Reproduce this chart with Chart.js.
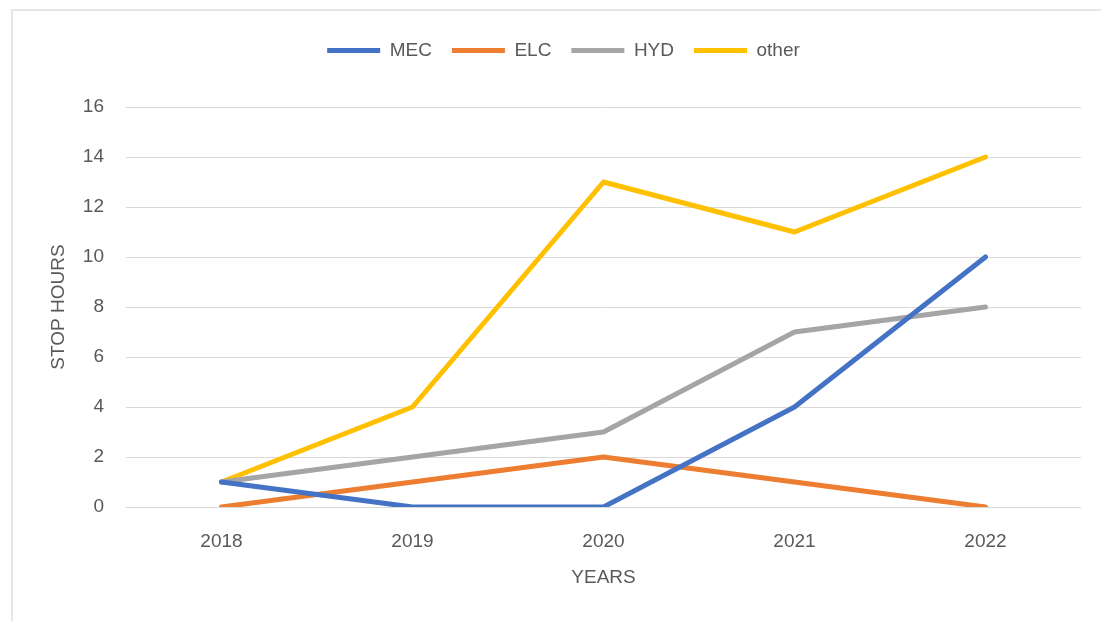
<!DOCTYPE html>
<html>
<head>
<meta charset="utf-8">
<script src="https://cdn.jsdelivr.net/npm/chart.js@4.4.1/dist/chart.umd.min.js"></script>
<style>
  html, body { margin: 0; padding: 0; background: #fff; }
  #wrap { position: relative; width: 1101px; height: 621px; }
  #frame { position: absolute; left: 11px; top: 9px; width: 1100px; height: 620px;
           border-left: 2px solid #e6e6e6; border-top: 2px solid #e6e6e6; }
  canvas { position: absolute; left: 0; top: 0; }
</style>
</head>
<body>
<div id="wrap">
  <div id="frame"></div>
  <canvas id="lineChart" width="1101" height="621"></canvas>
</div>
<script>
// data
const years = ["2018", "2019", "2020", "2021", "2022"];
const mec   = [1, 0, 0, 4, 10];
const elc   = [0, 1, 2, 1, 0];
const hyd   = [1, 2, 3, 7, 8];
const other = [1, 4, 13, 11, 14];

const blue = "#4472C4", orange = "#ED7D31", grey = "#A5A5A5", gold = "#FFC000";
const textGrey = "#595959";
const fontName = "'Liberation Sans', Arial, sans-serif";

function line(label, data, color){
    return {
        label: label,
        data: data,
        borderColor: color,
        backgroundColor: color,
        borderWidth: 5,
        pointRadius: 0,
        tension: 0,
        borderCapStyle: "round",
        borderJoinStyle: "round"
    };
}

Chart.defaults.font.family = fontName;
Chart.defaults.font.size = 19;
Chart.defaults.color = textGrey;

// extra room under the legend
const legendGap = {
    id: "legendGap",
    beforeInit(chart){
        const fit = chart.legend.fit;
        chart.legend.fit = function(){
            fit.bind(chart.legend)();
            this.height += 37;
        };
    }
};

new Chart(document.getElementById("lineChart"), {
    type: "line",
    data: {
        labels: years,
        datasets: [
            line("MEC", mec, blue),
            line("ELC", elc, orange),
            line("HYD", hyd, grey),
            line("other", other, gold)
        ]
    },
    options: {
        responsive: false,
        animation: false,
        layout: { padding: { top: 21, left: 46, right: 20, bottom: 25 } },
        plugins: {
            legend: {
                position: "top",
                labels: {
                    boxWidth: 53,
                    boxHeight: 5,
                    padding: 20,
                    generateLabels(chart){
                        const items = Chart.defaults.plugins.legend.labels.generateLabels(chart);
                        items.forEach(it => { it.lineWidth = 0; });
                        return items;
                    }
                }
            },
            tooltip: { enabled: false }
        },
        scales: {
            x: {
                offset: true,
                grid: { display: false, drawTicks: false },
                border: { display: false },
                ticks: { padding: 23 },
                title: { display: true, text: "YEARS", padding: { top: 4, bottom: 7 } },
                afterFit(scale){ scale.height = 621 - 25 - 507; }
            },
            y: {
                min: 0,
                max: 16,
                ticks: { stepSize: 2, padding: 22 },
                grid: { color: "#d9d9d9", lineWidth: 1, drawTicks: false },
                border: { display: false },
                title: { display: true, text: "STOP HOURS", padding: { top: 1, bottom: 4 } },
                afterFit(scale){ scale.width = 126 - 46; }
            }
        }
    },
    plugins: [legendGap]
});
</script>
</body>
</html>
